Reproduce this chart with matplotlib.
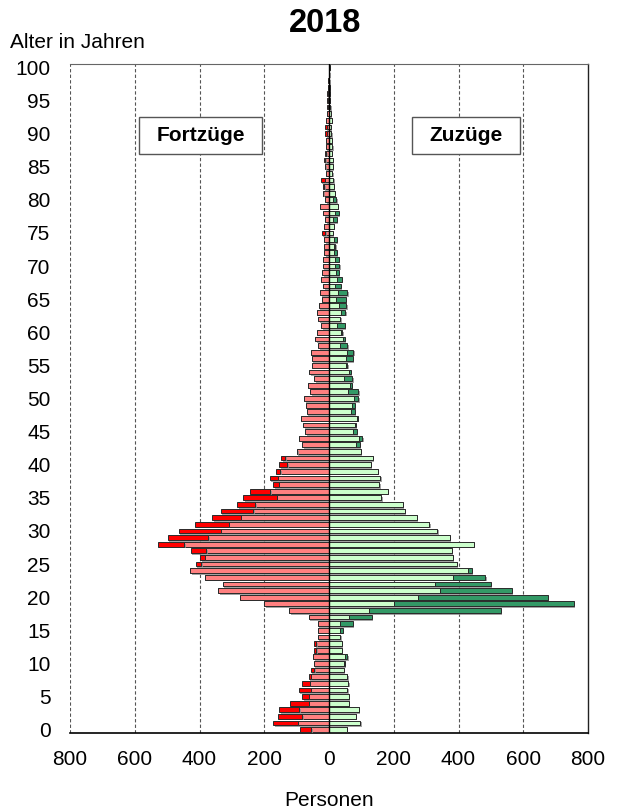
import numpy as np
import matplotlib
matplotlib.use("Agg")
import matplotlib.pyplot as plt
import matplotlib.patheffects as pe
from matplotlib.patches import Rectangle

plt.rcParams['font.family'] = ['Liberation Sans', 'DejaVu Sans']

ages = list(range(0, 101))

fortzuege = [90, 172, 157, 153, 121, 83, 94, 83, 63, 57,
             46, 49, 47, 45, 35, 34, 35, 62, 123, 200,
             275, 342, 328, 384, 428, 412, 398, 426, 529, 498,
             463, 415, 361, 335, 283, 265, 243, 172, 182, 164,
             154, 147, 99, 83, 92, 73, 79, 86, 68, 70,
             76, 58, 66, 45, 61, 54, 54, 57, 33, 42,
             36, 24, 33, 37, 31, 21, 27, 18, 24, 21,
             19, 18, 15, 16, 15, 22, 15, 11, 17, 27,
             11, 19, 18, 26, 10, 13, 16, 12, 10, 8,
             11, 12, 8, 5, 5, 5, 6, 4, 3, 1,
             0]

zuzuege = [55, 97, 82, 92, 62, 62, 56, 60, 56, 45,
           49, 56, 39, 39, 35, 42, 73, 132, 530, 757,
           675, 565, 500, 483, 441, 395, 383, 379, 447, 373,
           335, 310, 272, 234, 228, 162, 181, 155, 158, 150,
           129, 135, 98, 95, 103, 85, 83, 89, 79, 79,
           90, 91, 70, 72, 67, 57, 73, 75, 56, 48,
           41, 48, 35, 50, 54, 52, 57, 37, 39, 30,
           32, 31, 24, 20, 24, 11, 14, 25, 31, 27,
           22, 18, 15, 13, 10, 11, 12, 8, 10, 9,
           7, 6, 8, 5, 4, 3, 3, 2, 1, 1,
           2]

xticks = [-800, -600, -400, -200, 0, 200, 400, 600, 800]
xticklabels = ['800', '600', '400', '200', '0', '200', '400', '600', '800']
yticks = list(range(0, 101, 5))

fort = np.array(fortzuege)
zu = np.array(zuzuege)
balanced = np.minimum(fort, zu)
fort_excess = fort - balanced
zu_excess = zu - balanced

fig = plt.figure(figsize=(6.18, 8.09), dpi=100)
ax = fig.add_axes([70/618, 1 - 733/809, 518/618, 669/809])

shadow = [pe.SimplePatchShadow(offset=(1, -1.2), shadow_rgbFace='0.55', alpha=0.8), pe.Normal()]
h = 0.72
kw = dict(height=h, edgecolor='#2a2a2a', linewidth=0.7, zorder=3)

b1 = ax.barh(ages, -balanced, color='#FF8080', **kw)
b2 = ax.barh(ages, -fort_excess, left=-balanced, color='#FF0000', **kw)
b3 = ax.barh(ages, balanced, color='#CCFFCC', **kw)
b4 = ax.barh(ages, zu_excess, left=balanced, color='#339966', **kw)
for bars in (b1, b2, b3, b4):
    for p in bars:
        p.set_path_effects(shadow)

ax.set_xlim(-800, 800)
ax.set_ylim(-0.5, 100.5)

for x in [-800, -600, -400, -200, 200, 400, 600]:
    ax.axvline(x, color='#555555', linestyle=(0, (3, 2)), linewidth=0.8, zorder=1)
ax.axvline(0, color='black', linewidth=1.0, zorder=4)

ax.set_xticks(xticks)
ax.set_xticklabels(xticklabels)
ax.set_yticks(yticks)
ax.tick_params(axis='both', length=0, labelsize=15)
ax.tick_params(axis='y', pad=14)
ax.tick_params(axis='x', pad=12)

ax.spines['left'].set_visible(False)
ax.spines['top'].set_color('#666666')
ax.spines['top'].set_linewidth(0.8)
ax.spines['right'].set_color('#222222')
ax.spines['right'].set_linewidth(1.0)
ax.spines['bottom'].set_color('black')
ax.spines['bottom'].set_linewidth(1.2)

ax.set_xlabel('Personen', fontsize=15, labelpad=16)
fig.text(10/618, 1 - 42/809, 'Alter in Jahren', fontsize=15, ha='left', va='center')
fig.text(325/618, 1 - 24/809, '2018', fontsize=23.5, fontweight='bold', ha='center', va='center')

for (x0, x1, label) in [(0.133, 0.371, 'Fortzüge'), (0.660, 0.869, 'Zuzüge')]:
    y0, y1 = 0.865, 0.921
    ax.add_patch(Rectangle((x0, y0), x1 - x0, y1 - y0, transform=ax.transAxes,
                           facecolor='white', edgecolor='#555555', linewidth=1.0, zorder=5))
    ax.text((x0 + x1) / 2, (y0 + y1) / 2, label, transform=ax.transAxes,
            ha='center', va='center', fontsize=15, fontweight='bold', zorder=6)

fig.savefig('out.png', dpi=100)
